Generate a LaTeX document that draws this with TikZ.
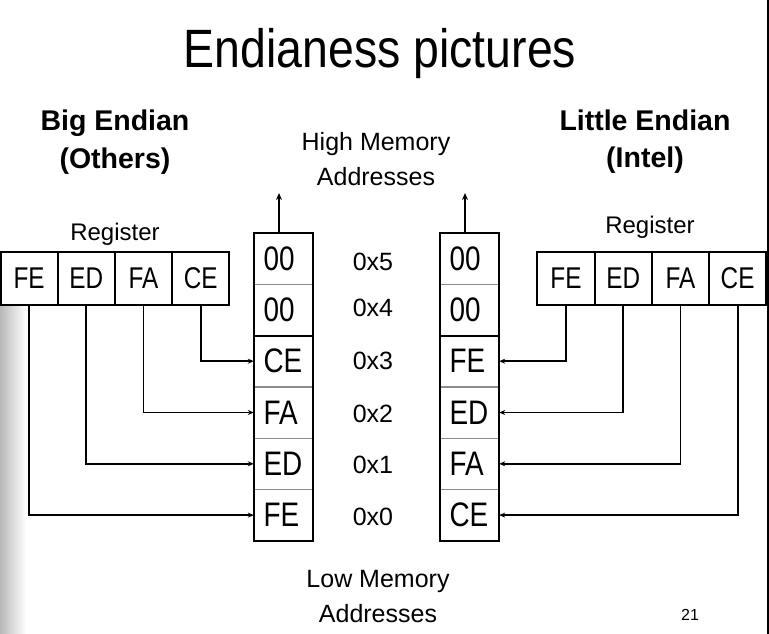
\documentclass[tikz,border=0pt]{standalone}
\usepackage{fontspec}
\setmainfont{Liberation Sans}
\newfontfamily\condtitle[FakeStretch=0.86]{Liberation Sans}
\newfontfamily\condmem[FakeStretch=0.82]{Liberation Sans}
\newfontfamily\condreg[FakeStretch=0.81]{Liberation Sans}
\usetikzlibrary{arrows.meta,calc}
\tikzset{
  fs/.style={font=\fontsize{#1}{#1}\selectfont},
  regcell/.style={draw=black, line width=2pt, minimum width=57.2pt, minimum height=53pt, inner sep=0pt, font=\condreg\fontsize{30}{30}\selectfont},
  memcell/.style={draw=none, minimum width=59pt, minimum height=51.3pt, inner sep=0pt, text width=40pt, align=left, font=\condmem\fontsize{34}{34}\selectfont},
  addr/.style={inner sep=0pt, anchor=base, fs=25},
  lbl/.style={inner sep=0pt, anchor=base, fs=25},
  reglbl/.style={inner sep=0pt, anchor=base, fs=24},
  hdr/.style={inner sep=0pt, anchor=base, font=\bfseries\fontsize{28.5}{28.5}\selectfont},
  conn/.style={line width=1.8pt, -{Stealth[length=6pt,width=5pt]}},
  uparrow/.style={line width=2pt, -{Stealth[length=7pt,width=6pt]}},
  rowline/.style={line width=1.2pt, black!45},
  outline/.style={line width=2.4pt}
}
\begin{document}
\begin{tikzpicture}[x=1pt,y=-1pt]
\useasboundingbox (0,0) rectangle (769,634);
\fill[white] (0,0) rectangle (769,634);
\shade[left color=black!28, right color=white] (0,306) rectangle (26,634);
\draw[line width=2pt] (767.5,0) -- (767.5,634);

% title and headers
\node[inner sep=0pt, anchor=base, font=\condtitle\fontsize{54}{54}\selectfont] (title) at (380,67) {Endianess pictures};
\node[hdr] (big1) at (115,130) {Big Endian};
\node[hdr] (big2) at (115,168) {(Others)};
\node[hdr] (lit1) at (645,130) {Little Endian};
\node[hdr] (lit2) at (645,167) {(Intel)};
\node[lbl] (hi1) at (376,150) {High Memory};
\node[lbl] (hi2) at (376,185) {Addresses};
\node[lbl] (lo1) at (378,587) {Low Memory};
\node[lbl] (lo2) at (378,622) {Addresses};
\node[inner sep=0pt, anchor=base, fs=16] (pg) at (690,620) {21};
\node[reglbl] (regL) at (115,240) {Register};
\node[reglbl] (regR) at (650,233) {Register};

% left register
\node[regcell] (lFE) at (29.1,278.5) {FE};
\node[regcell] (lED) at (86.3,278.5) {ED};
\node[regcell] (lFA) at (143.5,278.5) {FA};
\node[regcell] (lCE) at (200.7,278.5) {CE};
% right register
\node[regcell] (rFE) at (566.0,278.5) {FE};
\node[regcell] (rED) at (623.2,278.5) {ED};
\node[regcell] (rFA) at (680.4,278.5) {FA};
\node[regcell] (rCE) at (737.6,278.5) {CE};

% left memory column
\node[memcell] (mL5) at (283.5,258.6) {00};
\node[memcell] (mL4) at (283.5,309.9) {00};
\node[memcell] (mL3) at (283.5,361.2) {CE};
\node[memcell] (mL2) at (283.5,412.5) {FA};
\node[memcell] (mL1) at (283.5,463.8) {ED};
\node[memcell] (mL0) at (283.5,515.1) {FE};
% right memory column
\node[memcell] (mR5) at (469.5,258.6) {00};
\node[memcell] (mR4) at (469.5,309.9) {00};
\node[memcell] (mR3) at (469.5,361.2) {FE};
\node[memcell] (mR2) at (469.5,412.5) {ED};
\node[memcell] (mR1) at (469.5,463.8) {FA};
\node[memcell] (mR0) at (469.5,515.1) {CE};

% row lines
\foreach \c in {mL,mR}{
  \foreach \r in {5,3,2,1}{
    \draw[rowline] (\c\r.south west) -- (\c\r.south east);
  }
  \draw[outline] (\c4.south west) -- (\c4.south east);
  \draw[outline] (\c5.north west) rectangle (\c0.south east);
}

% addresses
\node[addr] (a5) at (373,270) {0x5};
\node[addr] (a4) at (373,316) {0x4};
\node[addr] (a3) at (373,369) {0x3};
\node[addr] (a2) at (373,422) {0x2};
\node[addr] (a1) at (373,473) {0x1};
\node[addr] (a0) at (373,525) {0x0};

% up arrows
\coordinate (upL) at (279,193);
\coordinate (upR) at (465,193);
\draw[uparrow] (mL5.north -| upL) -- (upL);
\draw[uparrow] (mR5.north -| upR) -- (upR);

% big endian connectors
\draw[conn] (lCE.south) |- (mL3.west);
\draw[conn] (lFA.south) |- (mL2.west);
\draw[conn] (lED.south) |- (mL1.west);
\draw[conn] (lFE.south) |- (mL0.west);
% little endian connectors
\draw[conn] (rFE.south) |- (mR3.east);
\draw[conn] (rED.south) |- (mR2.east);
\draw[conn] (rFA.south) |- (mR1.east);
\draw[conn] (rCE.south) |- (mR0.east);
\end{tikzpicture}
\end{document}
